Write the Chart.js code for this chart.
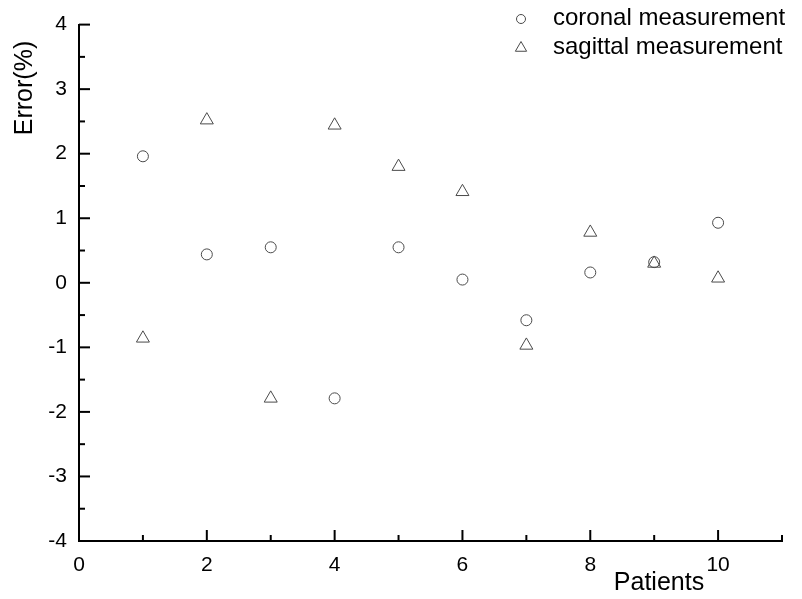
<!DOCTYPE html>
<html>
<head>
<meta charset="utf-8">
<script src="https://cdn.jsdelivr.net/npm/chart.js@4.4.1/dist/chart.umd.min.js"></script>
<style>
  body { margin: 0; background: #fff; }
  #wrap { width: 802px; height: 599px; }
</style>
</head>
<body>
<div id="wrap"><canvas id="myChart" width="802" height="599"></canvas></div>
<script>
// data

var patients = [1, 2, 3, 4, 5, 6, 7, 8, 9, 10];
var coronal  = [1.96, 0.44, 0.55, -1.79, 0.55, 0.05, -0.58, 0.16, 0.32, 0.93];
var sagittal = [-0.86, 2.52, -1.79, 2.44, 1.80, 1.41, -0.97, 0.78, 0.30, 0.07];

var seriesLabels = ["coronal measurement", "sagittal measurement"];
var xTitle = "Patients";
var yTitle = "Error(%)";

var markColor = "#4a4a4a";
var fontName = "'Liberation Sans', Arial, sans-serif";

function toPoints(xs, ys)
{
    var pts = [];
    for (var i = 0; i < xs.length; i++) pts.push({ x: xs[i], y: ys[i] });
    return pts;
}

// little helper for the marker shapes (used by legend too)
function drawMark(ctx, style, x, y, r)
{
    ctx.beginPath();
    if (style == "circle") {
        ctx.arc(x, y, r, 0, Math.PI * 2);
    } else {
        var h = r * 1.5;
        ctx.moveTo(x, y - h * 2 / 3);
        ctx.lineTo(x + r * 0.866, y + h / 3);
        ctx.lineTo(x - r * 0.866, y + h / 3);
        ctx.closePath();
    }
    ctx.stroke();
}

// inward ticks, legend and axis titles
var decoPlugin = {
    id: "deco",
    afterDraw: function(chart) {
        var ctx = chart.ctx;
        ctx.save();
        ctx.strokeStyle = "#000";
        ctx.lineWidth = 2;

        var xs = chart.scales.x;
        var ys = chart.scales.y;
        var bottom = chart.chartArea.bottom;
        var left = chart.chartArea.left;

        xs.ticks.forEach(function(t) {
            var px = xs.getPixelForValue(t.value);
            var len = (t.label !== "") ? 11 : 6;
            ctx.beginPath();
            ctx.moveTo(px, bottom);
            ctx.lineTo(px, bottom - len);
            ctx.stroke();
        });
        ys.ticks.forEach(function(t) {
            var py = ys.getPixelForValue(t.value);
            var len = (t.label !== "") ? 11 : 6;
            ctx.beginPath();
            ctx.moveTo(left, py);
            ctx.lineTo(left + len, py);
            ctx.stroke();
        });

        // legend
        ctx.lineWidth = 1;
        ctx.strokeStyle = markColor;
        ctx.fillStyle = "#000";
        ctx.font = "24px " + fontName;
        ctx.textBaseline = "middle";
        ctx.textAlign = "left";
        chart.data.datasets.forEach(function(ds, i) {
            var cy = 18 + i * 29;
            drawMark(ctx, ds.pointStyle, 521, cy + 1, ds.pointStyle == "circle" ? 4.5 : 6.5);
            ctx.fillText(ds.label, 553, cy);
        });

        // axis titles
        ctx.font = "25px " + fontName;
        ctx.textAlign = "center";
        ctx.textBaseline = "alphabetic";
        ctx.fillText(xTitle, 659, 590);

        ctx.translate(32, 88);
        ctx.rotate(-Math.PI / 2);
        ctx.fillText(yTitle, 0, 0);
        ctx.restore();
    }
};

var ctx1 = document.getElementById("myChart");
var myChart1 = new Chart(ctx1.getContext("2d"), {
    type: "scatter",
    data: {
        datasets: [{
            label: seriesLabels[0],
            data: toPoints(patients, coronal),
            pointStyle: "circle",
            pointRadius: 5.5,
            borderColor: markColor,
            backgroundColor: "rgba(0,0,0,0)",
            borderWidth: 1
        }, {
            label: seriesLabels[1],
            data: toPoints(patients, sagittal),
            pointStyle: "triangle",
            pointRadius: 7.5,
            borderColor: markColor,
            backgroundColor: "rgba(0,0,0,0)",
            borderWidth: 1
        }]
    },
    options: {
        responsive: false,
        animation: false,
        layout: { padding: { left: 0, right: 20, top: 24, bottom: 0 } },
        plugins: {
            legend: { display: false },
            tooltip: { enabled: false }
        },
        scales: {
            x: {
                type: "linear",
                min: 0,
                max: 11,
                grid: { display: false, drawTicks: false },
                border: { display: true, color: "#000", width: 2 },
                ticks: {
                    stepSize: 1,
                    autoSkip: false,
                    maxRotation: 0,
                    padding: 12,
                    color: "#000",
                    font: { family: fontName, size: 21 },
                    callback: function(v) { return (v % 2 == 0) ? String(v) : ""; }
                },
                afterFit: function(scale) { scale.height = 58; }
            },
            y: {
                min: -4,
                max: 4,
                grid: { display: false, drawTicks: false },
                border: { display: true, color: "#000", width: 2 },
                ticks: {
                    stepSize: 0.5,
                    autoSkip: false,
                    padding: 12,
                    color: "#000",
                    font: { family: fontName, size: 21 },
                    callback: function(v) { return Number.isInteger(v) ? String(v) : ""; }
                },
                afterFit: function(scale) { scale.width = 79; }
            }
        }
    },
    plugins: [decoPlugin]
});
</script>
</body>
</html>
